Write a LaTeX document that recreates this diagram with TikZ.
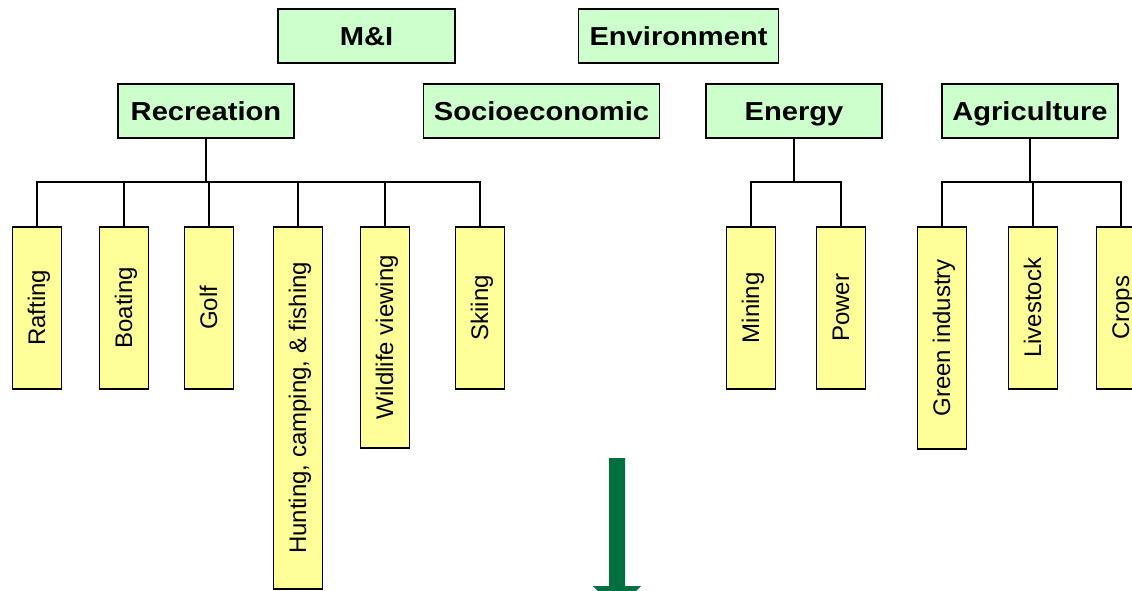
\documentclass[tikz,border=0pt]{standalone}
\usepackage{fontspec}
\setmainfont{Liberation Sans}
\newfontfamily\catfont[FakeStretch=1.12]{Liberation Sans}
\usepackage{tikz}

\definecolor{catgreen}{HTML}{CCFFCC}
\definecolor{subyellow}{HTML}{FFFF99}
\definecolor{arrowgreen}{HTML}{007040}

\tikzset{
  catbox/.style={draw=black,line width=1.5pt,fill=catgreen,minimum height=54pt,inner sep=0pt,
    text height=19.5pt,text depth=0pt,font=\catfont\fontsize{26}{30}\selectfont\bfseries},
  subbox/.style={draw=black,line width=1.5pt,fill=subyellow,rotate=90,anchor=east,
    minimum height=49pt,inner sep=0pt,text height=16pt,text depth=0pt,
    font=\fontsize{24}{28}\selectfont},
  link/.style={draw=black,line width=1.5pt}
}

\begin{document}
\begin{tikzpicture}[x=1pt,y=-1pt]
\useasboundingbox (0,0) rectangle (1132,590);
\clip (0,0) rectangle (1132,590);

\node[catbox,minimum width=177pt] (mi) at (366.5,36) {M\&I};
\node[catbox,minimum width=200pt] (env) at (678.5,36) {Environment};
\node[catbox,minimum width=176pt] (rec) at (206,111) {Recreation};
\node[catbox,minimum width=236pt] (soc) at (541.5,111) {Socioeconomic};
\node[catbox,minimum width=176pt] (energy) at (794,111) {Energy};
\node[catbox,minimum width=176pt] (agri) at (1030,111) {Agriculture};

\node[subbox,minimum width=162pt] (raft) at (37,226) {Rafting};
\node[subbox,minimum width=162pt] (boat) at (124,226) {Boating};
\node[subbox,minimum width=162pt] (golf) at (209,226) {Golf};
\node[subbox,minimum width=362pt] (hunt) at (298,226) {Hunting, camping, \& fishing};
\node[subbox,minimum width=221pt] (wild) at (385,226) {Wildlife viewing};
\node[subbox,minimum width=162pt] (ski) at (480,226) {Skiing};

\node[subbox,minimum width=162pt] (mining) at (751,226) {Mining};
\node[subbox,minimum width=162pt] (power) at (841,226) {Power};

\node[subbox,minimum width=222pt] (green) at (942,226) {Green industry};
\node[subbox,minimum width=162pt] (stock) at (1033,226) {Livestock};
\node[subbox,minimum width=162pt] (crops) at (1121,226) {Crops};

\foreach \leaf in {raft,boat,golf,hunt,wild,ski}
  \draw[link] (rec.south) -- ++(0,43) -| (\leaf.east);
\foreach \leaf in {mining,power}
  \draw[link] (energy.south) -- ++(0,43) -| (\leaf.east);
\foreach \leaf in {green,stock,crops}
  \draw[link] (agri.south) -- ++(0,43) -| (\leaf.east);

% big arrow at the bottom
\fill[arrowgreen] (609,458) -- (625,458) -- (625,586) -- (641,586) -- (617,610)
  -- (593,586) -- (609,586) -- cycle;
\end{tikzpicture}
\end{document}
